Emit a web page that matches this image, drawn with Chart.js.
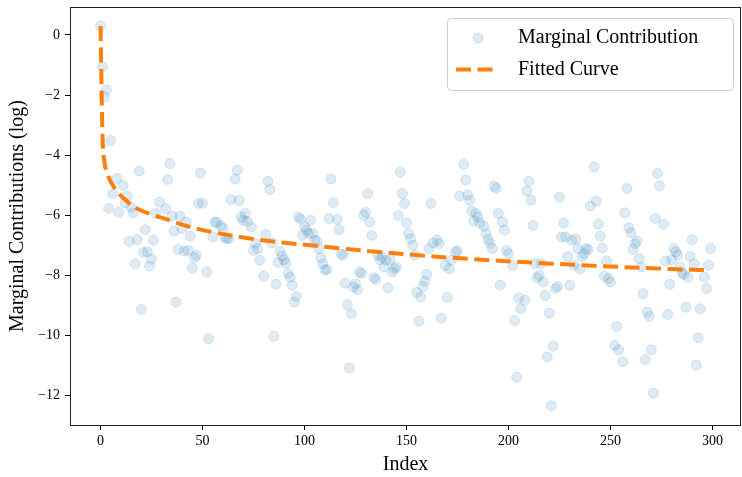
<!DOCTYPE html>
<html>
<head>
<meta charset="utf-8">
<script src="https://cdn.jsdelivr.net/npm/chart.js@4/dist/chart.umd.min.js"></script>
<style>
  html, body { margin: 0; padding: 0; background: #ffffff; }
  #wrap { width: 742px; height: 477px; }
</style>
</head>
<body>
<div id="wrap"><canvas id="c" width="742" height="477"></canvas></div>
<script>
// ---- Data ----
const pointIndex = [
  0,1,2,3,4,5,6,8,9,11,12,13,14,15,16,17,18,19,20,21,22,23,24,25,26,27,29,32,33,34,35,36,37,38,39,40,41,42,43,44,45,46,47,48,49,50,
  52,53,55,56,57,59,60,61,62,63,64,66,67,68,69,70,71,72,74,75,76,77,78,80,81,82,83,84,85,86,87,88,89,90,91,92,93,94,95,96,97,98,99,100,
  101,102,103,104,105,106,107,108,109,110,111,112,113,114,116,117,118,119,120,121,122,123,124,125,126,127,128,129,130,131,132,133,134,135,
  136,137,138,139,140,141,142,143,144,145,146,147,148,149,150,151,152,153,154,155,156,157,158,159,160,161,162,163,165,166,167,
  169,170,171,172,174,175,176,178,179,180,181,182,183,184,185,186,188,189,190,191,192,193,194,195,196,197,198,199,200,
  202,203,204,205,206,208,209,210,211,212,213,214,215,216,217,218,219,220,221,222,223,224,225,226,227,228,229,230,231,232,233,234,235,
  236,237,238,239,240,242,243,244,245,246,247,248,249,250,252,253,254,256,257,258,259,260,261,262,263,264,265,266,267,268,269,270,271,
  272,273,274,276,277,278,279,280,281,282,283,284,285,286,287,288,289,290,291,292,293,294,296,297,298,299
];
const pointValue = [
  0.30,-1.06,-2.06,-1.83,-5.77,-3.51,-5.28,-4.78,-5.90,-5.01,-5.59,-5.37,-6.87,-5.74,-5.92,-7.61,-6.81,-4.53,-9.13,-7.24,-6.48,-7.22,-7.69,-7.46,-6.83,-5.94,-5.56,-5.78,-4.81,-4.28,-6.03,-6.53,-8.89,-7.14,-6.03,-6.44,-7.19,-6.22,-7.17,-6.70,-7.76,-7.41,-7.33,-5.61,-4.59,-5.60,
  -7.89,-10.11,-6.72,-6.23,-6.23,-6.35,-6.43,-6.75,-6.78,-6.78,-5.48,-4.80,-4.50,-5.51,-6.06,-6.17,-5.94,-6.21,-6.39,-7.17,-6.94,-7.11,-7.50,-8.03,-6.64,-4.87,-5.14,-6.92,-10.03,-8.30,-7.57,-7.20,-7.36,-7.48,-7.59,-7.94,-8.06,-8.33,-8.89,-8.70,-6.06,-6.13,-6.67,-6.39,
  -6.50,-6.61,-6.17,-6.61,-6.83,-6.86,-7.12,-7.42,-7.61,-7.81,-7.81,-6.11,-4.79,-5.58,-6.14,-6.48,-7.30,-7.33,-8.26,-8.98,-11.08,-9.28,-8.40,-8.28,-8.48,-7.89,-7.94,-6.00,-5.90,-5.28,-6.22,-6.67,-8.08,-8.14,
  -7.33,-7.48,-7.39,-7.72,-7.50,-8.42,-7.48,-7.89,-7.78,-7.72,-6.01,-4.57,-5.28,-5.61,-6.26,-6.61,-6.78,-7.00,-7.33,-8.57,-9.53,-8.72,-8.37,-8.20,-7.97,-7.11,-5.61,-6.92,-6.83,-6.94,-9.43,
  -7.67,-8.74,-7.78,-7.50,-7.22,-7.19,-5.36,-4.31,-4.83,-5.33,-5.50,-5.86,-6.19,-5.94,-6.06,-6.26,-6.37,-6.61,-6.81,-6.94,-7.11,-5.03,-5.11,-5.94,-8.33,-6.22,-6.50,-7.17,-7.28,
  -7.67,-9.50,-11.39,-8.76,-9.11,-8.83,-5.19,-4.87,-5.50,-6.34,-7.61,-8.08,-8.00,-7.61,-8.22,-8.67,-10.72,-9.26,-12.34,-10.36,-8.44,-8.37,-5.39,-6.72,-6.26,-6.72,-7.37,-8.33,-6.83,-7.67,-6.79,-7.11,-7.79,
  -7.39,-7.28,-7.11,-7.14,-5.69,-4.39,-5.53,-6.30,-6.70,-7.09,-8.03,-7.52,-8.11,-8.22,-10.33,-9.70,-10.48,-10.87,-5.92,-5.11,-6.42,-6.58,-7.14,-6.94,-6.86,-7.44,-7.72,-8.61,-10.80,-9.22,-9.37,-10.48,-11.92,
  -6.11,-4.61,-5.02,-6.30,-7.52,-9.30,-8.30,-7.48,-7.11,-7.22,-7.33,-7.72,-7.92,-7.97,-9.06,-8.06,-7.37,-6.81,-7.61,-10.98,-10.08,-9.11,-8.06,-8.44,-7.67,-7.11
];
const curveIndex = [0, 1, 2, 3, 5, 8, 11, 18, 25, 30, 44, 70, 107, 163, 221, 280, 299];
const curveValue = [0.30, -3.40, -4.25, -4.55, -4.88, -5.20, -5.42, -5.78, -5.97, -6.08, -6.39, -6.74, -7.03, -7.37, -7.61, -7.79, -7.83];
const xTicks = [0, 50, 100, 150, 200, 250, 300];
const yTicks = [0, -2, -4, -6, -8, -10, -12];
const seriesNames = ["Marginal Contribution", "Fitted Curve"];
const axisTitles = { x: "Index", y: "Marginal Contributions (log)" };

// ---- Styles ----
const SERIF = "'Liberation Serif', 'Times New Roman', 'DejaVu Serif', serif";
const BLUE_FILL = "rgba(31,119,180,0.15)";
const BLUE_EDGE = "rgba(31,119,180,0.15)";
const ORANGE = "#ff7f0e";
const DASH = [15, 6.5];

function fmt(v) {
  return v < 0 ? "\u2212" + Math.abs(v) : String(v);
}
function noPad(s) {
  s.paddingLeft = 0; s.paddingRight = 0; s.paddingTop = 0; s.paddingBottom = 0;
}

const scatterData = pointIndex.map((x, i) => ({ x: x, y: pointValue[i] }));
const curveData = curveIndex.map((x, i) => ({ x: x, y: curveValue[i] }));

const framePlugin = {
  id: "frameAndLegend",
  afterDraw(chart) {
    const ctx = chart.ctx;
    const a = chart.chartArea;
    ctx.save();
    ctx.strokeStyle = "#222222";
    ctx.lineWidth = 1;
    ctx.strokeRect(Math.round(a.left) + 0.5, Math.round(a.top) + 0.5,
                   Math.round(a.right - a.left) - 1, Math.round(a.bottom - a.top));
    // legend box
    const bx = 447.5, by = 18.5, bw = 286, bh = 72, r = 4;
    ctx.beginPath();
    ctx.moveTo(bx + r, by);
    ctx.lineTo(bx + bw - r, by);
    ctx.quadraticCurveTo(bx + bw, by, bx + bw, by + r);
    ctx.lineTo(bx + bw, by + bh - r);
    ctx.quadraticCurveTo(bx + bw, by + bh, bx + bw - r, by + bh);
    ctx.lineTo(bx + r, by + bh);
    ctx.quadraticCurveTo(bx, by + bh, bx, by + bh - r);
    ctx.lineTo(bx, by + r);
    ctx.quadraticCurveTo(bx, by, bx + r, by);
    ctx.closePath();
    ctx.fillStyle = "rgba(255,255,255,0.8)";
    ctx.fill();
    ctx.strokeStyle = "#cccccc";
    ctx.stroke();
    // marker
    ctx.beginPath();
    ctx.arc(478, 38, 5, 0, Math.PI * 2);
    ctx.fillStyle = BLUE_FILL;
    ctx.fill();
    ctx.strokeStyle = BLUE_EDGE;
    ctx.lineWidth = 1;
    ctx.stroke();
    // dashed line sample
    ctx.beginPath();
    ctx.setLineDash(DASH);
    ctx.lineWidth = 4;
    ctx.strokeStyle = ORANGE;
    ctx.moveTo(456, 69.5);
    ctx.lineTo(496, 69.5);
    ctx.stroke();
    ctx.setLineDash([]);
    // text
    ctx.fillStyle = "#000000";
    ctx.font = "20px " + SERIF;
    ctx.textBaseline = "middle";
    ctx.textAlign = "left";
    ctx.fillText(seriesNames[0], 518, 38);
    ctx.fillText(seriesNames[1], 518, 70);
    ctx.restore();
  }
};

new Chart(document.getElementById("c"), {
  type: "scatter",
  data: {
    datasets: [
      {
        label: seriesNames[1],
        data: curveData,
        showLine: true,
        borderColor: ORANGE,
        borderWidth: 4,
        borderDash: DASH,
        borderCapStyle: "butt",
        pointRadius: 0,
        pointHoverRadius: 0,
        cubicInterpolationMode: "monotone",
        fill: false,
        order: 0
      },
      {
        label: seriesNames[0],
        data: scatterData,
        pointRadius: 5,
        pointBorderWidth: 1,
        backgroundColor: BLUE_FILL,
        borderColor: BLUE_EDGE,
        order: 1
      }
    ]
  },
  options: {
    responsive: false,
    animation: false,
    devicePixelRatio: 1,
    layout: { autoPadding: false, padding: { top: 7, right: 1, left: 0, bottom: 0 } },
    plugins: { legend: { display: false }, tooltip: { enabled: false } },
    scales: {
      x: {
        type: "linear",
        min: -14.95,
        max: 313.95,
        afterFit(s) { s.height = 52; noPad(s); },
        afterBuildTicks(s) { s.ticks = xTicks.map(v => ({ value: v })); },
        border: { display: false },
        grid: { display: true, drawOnChartArea: false, drawTicks: true, tickLength: 5, tickColor: "#000000", tickWidth: 1 },
        ticks: { color: "#000000", font: { family: SERIF, size: 14 }, padding: 3, maxRotation: 0, callback: v => fmt(v) },
        title: { display: true, text: axisTitles.x, color: "#000000", font: { family: SERIF, size: 20 }, padding: { top: 0, bottom: 0 } }
      },
      y: {
        type: "linear",
        min: -12.98,
        max: 0.93,
        afterFit(s) { s.width = 70; noPad(s); },
        afterBuildTicks(s) { s.ticks = yTicks.map(v => ({ value: v })); },
        border: { display: false },
        grid: { display: true, drawOnChartArea: false, drawTicks: true, tickLength: 5, tickColor: "#000000", tickWidth: 1 },
        ticks: { color: "#000000", font: { family: SERIF, size: 14 }, padding: 5, callback: v => fmt(v) },
        title: { display: true, text: axisTitles.y, color: "#000000", font: { family: SERIF, size: 20 }, padding: { top: 6, bottom: 0 } }
      }
    }
  },
  plugins: [framePlugin]
});
</script>
</body>
</html>
